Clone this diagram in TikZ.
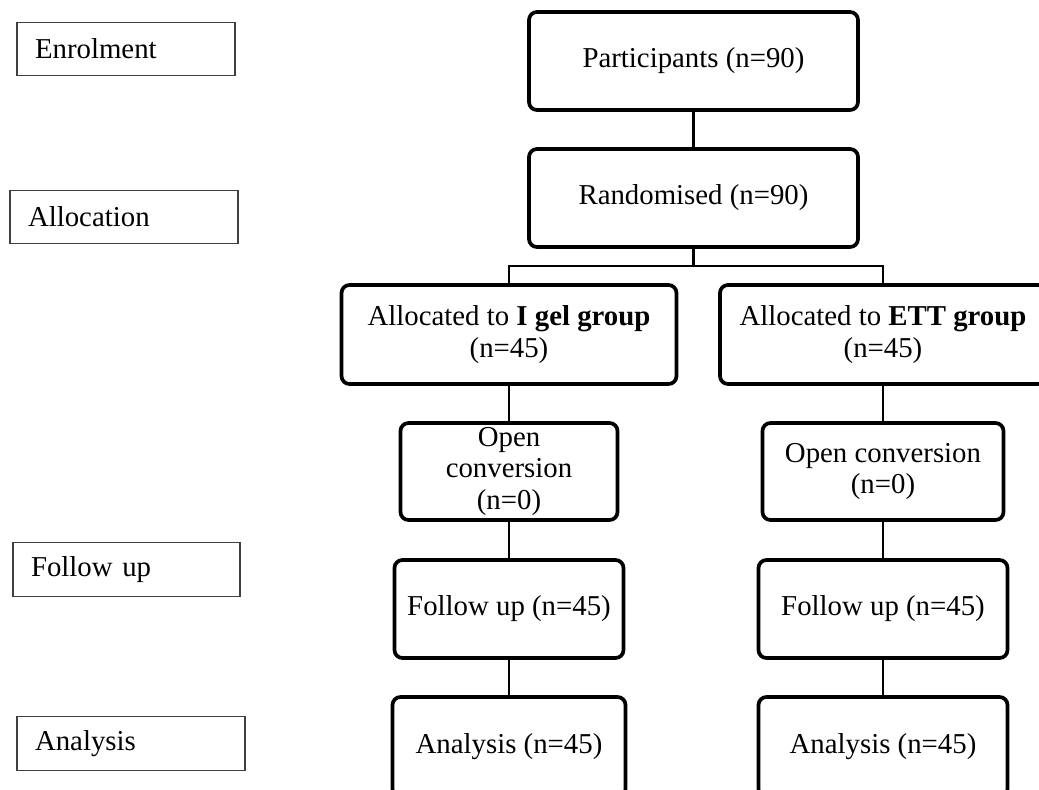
\documentclass[tikz,border=0pt]{standalone}
\usepackage{fontspec}
\setmainfont{Liberation Serif}
\usetikzlibrary{positioning}

\begin{document}
\begin{tikzpicture}[x=0.02cm, y=-0.02cm,
    every node/.style={font=\fontsize{16.4}{17.8}\selectfont},
    stage/.style={draw=black!75, line width=0.6pt, inner xsep=0.36cm, inner ysep=0pt,
        text width=3.84cm, align=left, minimum height=1.07cm},
    flowbox/.style={draw, line width=2.1pt, rounded corners=4.5pt, inner sep=0pt,
        align=center, minimum height=1.96cm},
    link/.style={line width=1.5pt}]
            \clip[use as bounding box] (0,0) rectangle (1039,789);

            % Stages
            \node[stage, text width=3.64cm] (enrol) at (126,49) {Enrolment};
            \node[stage] (allocation) at (124,217) {Allocation};
            \node[stage, text width=3.82cm] (followup) at (126.5,569.5) {Follow up};
            \node[stage] (analysis) at (131,743.5) {Analysis};

            % Boxes
            \node[flowbox, minimum width=6.58cm] (part) at (693.5,61) {Participants (n=90)};
            \node[flowbox, minimum width=6.58cm] (rand) at (693.5,198) {Randomised (n=90)};
            \node[flowbox, minimum width=6.7cm, minimum height=1.98cm] (allocI) at (509,334.5) {Allocated to \textbf{I gel group}\\(n=45)};
            \node[flowbox, minimum width=6.52cm, minimum height=1.98cm] (allocE) at (883,334.5) {Allocated to \textbf{ETT group}\\(n=45)};
            \node[flowbox, minimum width=4.34cm, minimum height=1.94cm] (openI) at (509,471.5) {Open\\conversion\\(n=0)};
            \node[flowbox, minimum width=4.82cm, minimum height=1.94cm] (openE) at (883,471.5) {Open conversion\\(n=0)};
            \node[flowbox, minimum width=4.58cm] (followI) at (509,609) {Follow up (n=45)};
            \node[flowbox, minimum width=4.98cm] (followE) at (883,609) {Follow up (n=45)};
            \node[flowbox, minimum width=4.66cm, minimum height=2cm] (analI) at (509,747) {Analysis (n=45)};
            \node[flowbox, minimum width=4.98cm, minimum height=2cm] (analE) at (883,747) {Analysis (n=45)};

            % Links
            \coordinate (fork) at (693.5,266);
            \draw[link] (part) -- (rand);
            \draw[link] (rand) -- (fork);
            \draw[link] (allocI) |- (fork) -| (allocE);
            \draw[link] (allocI) -- (openI);
            \draw[link] (openI) -- (followI);
            \draw[link] (followI) -- (analI);
            \draw[link] (allocE) -- (openE);
            \draw[link] (openE) -- (followE);
            \draw[link] (followE) -- (analE);
        \end{tikzpicture}
\end{document}
